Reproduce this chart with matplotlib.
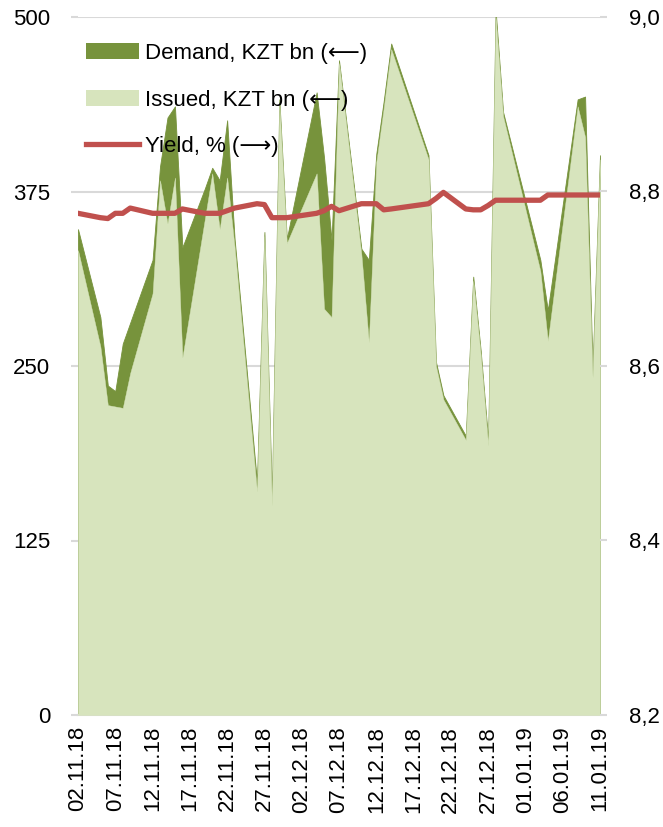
import matplotlib
matplotlib.use("Agg")
import matplotlib.pyplot as plt
from matplotlib.patches import Patch
from matplotlib.lines import Line2D
from matplotlib.ticker import FuncFormatter
import pandas as pd

plt.rcParams['font.family'] = ['Liberation Sans', 'DejaVu Sans']

dates = ['2018-11-02', '2018-11-05', '2018-11-06', '2018-11-07', '2018-11-08', '2018-11-09',
         '2018-11-12', '2018-11-13', '2018-11-14', '2018-11-15', '2018-11-16',
         '2018-11-19', '2018-11-20', '2018-11-21', '2018-11-22', '2018-11-23',
         '2018-11-26', '2018-11-27', '2018-11-28', '2018-11-29', '2018-11-30',
         '2018-12-04', '2018-12-05', '2018-12-06', '2018-12-07',
         '2018-12-10', '2018-12-11', '2018-12-12', '2018-12-13', '2018-12-14',
         '2018-12-19', '2018-12-20', '2018-12-21',
         '2018-12-24', '2018-12-25', '2018-12-26', '2018-12-27', '2018-12-28', '2018-12-29',
         '2019-01-03', '2019-01-04',
         '2019-01-08', '2019-01-09', '2019-01-10', '2019-01-11']

demand = [348, 285, 236, 232, 266, 281,
          326, 393, 428, 436, 335,
          377, 392, 383, 426, 341,
          167, 346, 156, 441, 341,
          446, 399, 340, 469,
          334, 326, 402, 440, 481,
          401, 253, 229,
          200, 314, 261, 197, 505, 432,
          326, 290,
          441, 443, 248, 401]

issued = [333, 264, 222, 221, 220, 245,
          302, 383, 352, 385, 256,
          355, 388, 348, 385, 335,
          160, 343, 150, 438, 338,
          388, 291, 285, 467,
          330, 267, 396, 435, 477,
          398, 250, 226,
          197, 311, 258, 193, 500, 429,
          318, 268,
          436, 414, 242, 398]

yield_pct = [8.775, 8.770, 8.769, 8.775, 8.775, 8.781,
             8.775, 8.775, 8.775, 8.775, 8.780,
             8.775, 8.775, 8.775, 8.778, 8.781,
             8.786, 8.785, 8.770, 8.770, 8.770,
             8.775, 8.778, 8.783, 8.778,
             8.786, 8.786, 8.786, 8.779, 8.780,
             8.786, 8.792, 8.799,
             8.780, 8.779, 8.779, 8.784, 8.790, 8.790,
             8.790, 8.796,
             8.796, 8.796, 8.796, 8.796]

left_ticks = [0, 125, 250, 375, 500]
right_ticks = [8.2, 8.4, 8.6, 8.8, 9.0]

labels = ['Demand, KZT bn (\u27f5)', 'Issued, KZT bn (\u27f5)', 'Yield, % (\u27f6)']

DARK = '#77933C'
LIGHT = '#D7E4BD'
RED = '#C0504D'
GRID = '#D9D9D9'
FS = 16

x = pd.to_datetime(dates)

fig = plt.figure(figsize=(6.63, 8.27), dpi=100)
ax = fig.add_axes([78 / 663, 1 - 715 / 827, (600 - 78) / 663, (715 - 17) / 827])

ax.fill_between(x, 0, demand, color=DARK, linewidth=0.6, edgecolor=DARK, zorder=2)
ax.fill_between(x, 0, issued, color=LIGHT, linewidth=0.3, edgecolor=LIGHT, zorder=3)

ax.set_xlim(x[0], x[-1])
ax.set_ylim(0, 500)
ax.set_yticks(left_ticks)
ax.set_axisbelow(True)
ax.yaxis.grid(True, color=GRID, linewidth=1.5)
for s in ['top', 'left', 'right']:
    ax.spines[s].set_visible(False)
ax.spines['bottom'].set_color(GRID)
ax.spines['bottom'].set_linewidth(1.5)
ax.tick_params(axis='y', length=5, width=1.5, color=GRID, labelsize=FS, pad=15)

xticks = pd.date_range(x[0], x[-1], freq='5D')
ax.set_xticks(xticks)
ax.set_xticklabels([d.strftime('%d.%m.%y') for d in xticks], rotation=90, fontsize=FS)
ax.tick_params(axis='x', length=0, pad=8)

ax2 = ax.twinx()
ax2.plot(x, yield_pct, color=RED, linewidth=3.8, solid_joinstyle='round', zorder=5)
ax2.set_ylim(8.2, 9.0)
ax2.set_yticks(right_ticks)
ax2.yaxis.set_major_formatter(FuncFormatter(lambda v, p: f'{v:.1f}'.replace('.', ',')))
for s in ax2.spines.values():
    s.set_visible(False)
ax2.tick_params(axis='y', length=5, width=1.5, color=GRID, labelsize=FS, pad=16)

handles = [Patch(facecolor=DARK, edgecolor='none'),
           Patch(facecolor=LIGHT, edgecolor='none'),
           Line2D([0], [0], color=RED, linewidth=3.8)]
leg = ax2.legend(handles, labels, loc='upper left', bbox_to_anchor=(-0.015, 0.985),
                 frameon=False, fontsize=FS, handlelength=2.4, handleheight=0.7,
                 handletextpad=0.25, labelspacing=1.15, borderaxespad=0.3)
leg.set_zorder(10)

fig.savefig('out.png', dpi=100)
